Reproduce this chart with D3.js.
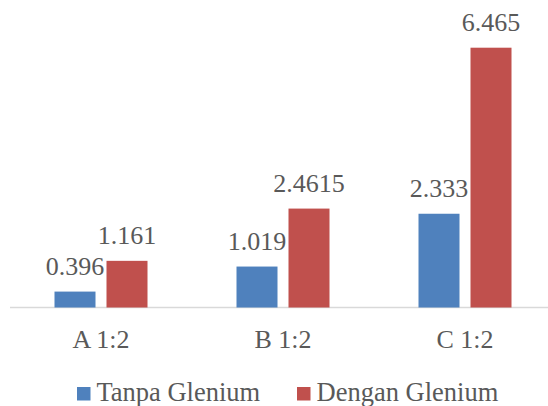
<!DOCTYPE html>
<html>
<head>
<meta charset="utf-8">
<script src="https://cdn.jsdelivr.net/npm/d3@7"></script>
<style>
  html, body { margin: 0; padding: 0; background: #fff; }
  svg { display: block; }
</style>
</head>
<body>
<svg id="chart" width="548" height="406"></svg>
<script>
const categories = ["A 1:2", "B 1:2", "C 1:2"];
const seriesNames = ["Tanpa Glenium", "Dengan Glenium"];
const tanpaValues = [0.396, 1.019, 2.333];
const denganValues = [1.161, 2.4615, 6.465];
const valueLabels = [["0.396", "1.019", "2.333"], ["1.161", "2.4615", "6.465"]];
const colors = ["#4f81bd", "#c0504d"];

const svg = d3.select("#chart");
const W = 548, H = 406;
const baseY = 307.5;
const textColor = "#595959";
const FONT = "'Liberation Serif', 'Times New Roman', serif";

const x0 = d3.scaleBand().domain(categories).range([10, 556])
  .paddingInner(0.489).paddingOuter(0.2445);
const x1 = d3.scaleBand().domain(seriesNames).range([0, x0.bandwidth()])
  .paddingInner(0.2115).paddingOuter(0);
const y = d3.scaleLinear().domain([0, 7]).range([baseY, 26.2]);

const seriesValues = [tanpaValues, denganValues];
const data = [];
categories.forEach((c, i) => {
  seriesNames.forEach((s, j) => {
    data.push({cat: c, series: s, value: seriesValues[j][i], label: valueLabels[j][i], color: colors[j]});
  });
});

// baseline
svg.append("line")
  .attr("x1", 10).attr("x2", W)
  .attr("y1", baseY).attr("y2", baseY)
  .attr("stroke", "#d9d9d9").attr("stroke-width", 1.5);

// bars
svg.append("g").selectAll("rect").data(data).join("rect")
  .attr("x", d => x0(d.cat) + x1(d.series))
  .attr("y", d => y(d.value))
  .attr("width", x1.bandwidth())
  .attr("height", d => baseY - y(d.value))
  .attr("fill", d => d.color);

// value labels
svg.append("g").selectAll("text.val").data(data).join("text")
  .attr("class", "val")
  .attr("x", d => x0(d.cat) + x1(d.series) + x1.bandwidth() / 2)
  .attr("y", d => y(d.value) - 17)
  .attr("text-anchor", "middle")
  .style("font-family", FONT)
  .style("font-size", "26px")
  .attr("fill", textColor)
  .text(d => d.label);

// category axis labels
const xAxis = d3.axisBottom(x0).tickSize(0).tickPadding(0);
const gx = svg.append("g").attr("transform", `translate(0,${baseY})`).call(xAxis);
gx.attr("font-family", FONT).attr("font-size", 26);
gx.select(".domain").remove();
gx.selectAll("text")
  .attr("y", 40.5).attr("dy", null)
  .style("font-family", FONT)
  .style("font-size", "26px")
  .attr("fill", textColor);

// legend
const legendX = [77, 297];
const lg = svg.append("g").selectAll("g").data(seriesNames).join("g")
  .attr("transform", (d, i) => `translate(${legendX[i]},0)`);
lg.append("rect").attr("x", 0).attr("y", 387).attr("width", 13.5).attr("height", 13.5)
  .attr("fill", (d, i) => colors[i]);
lg.append("text").attr("x", 19.5).attr("y", 401)
  .style("font-family", FONT)
  .style("font-size", "26.5px")
  .attr("fill", textColor).text(d => d);
</script>
</body>
</html>
